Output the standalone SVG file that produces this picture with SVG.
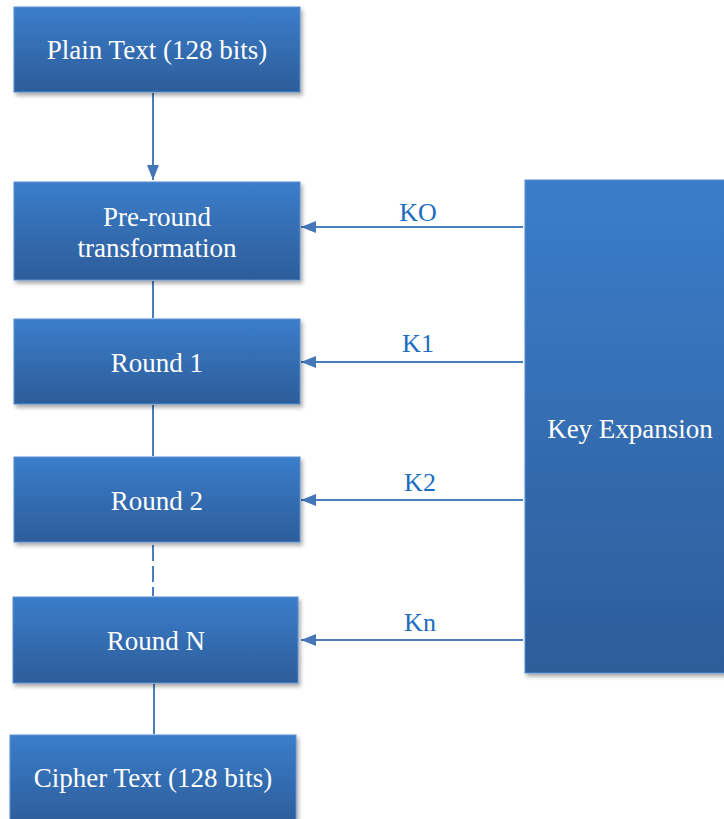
<svg xmlns="http://www.w3.org/2000/svg" width="724" height="819" viewBox="0 0 724 819">
<defs>
<linearGradient id="g" x1="0" y1="0" x2="0" y2="1">
<stop offset="0" stop-color="#3b7dca"/>
<stop offset="1" stop-color="#2d5d9a"/>
</linearGradient>
<filter id="sh" x="-10%" y="-10%" width="125%" height="125%">
<feGaussianBlur in="SourceAlpha" stdDeviation="2"/>
<feOffset dx="2" dy="3"/>
<feComponentTransfer><feFuncA type="linear" slope="0.35"/></feComponentTransfer>
<feMerge><feMergeNode/><feMergeNode in="SourceGraphic"/></feMerge>
</filter>
<marker id="ah" markerWidth="16" markerHeight="12" refX="15" refY="6" orient="auto" markerUnits="userSpaceOnUse">
<path d="M0,0 L15,6 L0,12 Z" fill="#4476b8"/>
</marker>
</defs>
<style>
.box{fill:url(#g);stroke:#5a8fd0;stroke-width:1;filter:url(#sh)}
text{font-family:'Liberation Serif','DejaVu Serif',serif;font-size:27px;text-anchor:middle}
.t{fill:#ffffff}
.lbl{fill:#1c6dc0;font-size:26px}
.c{stroke:#4a7dbf;stroke-width:2;fill:none}
</style>
<g id="connectors">
<line class="c" x1="153" y1="93" x2="153" y2="180" marker-end="url(#ah)"/>
<line class="c" x1="153" y1="281" x2="153" y2="318"/>
<line class="c" x1="153" y1="405" x2="153" y2="456"/>
<line class="c" x1="153" y1="545" x2="153" y2="596" stroke-dasharray="16,5"/>
<line class="c" x1="154" y1="684" x2="154" y2="734"/>
<line class="c" x1="523" y1="227" x2="301" y2="227" marker-end="url(#ah)"/>
<line class="c" x1="523" y1="362" x2="301" y2="362" marker-end="url(#ah)"/>
<line class="c" x1="523" y1="500" x2="301" y2="500" marker-end="url(#ah)"/>
<line class="c" x1="523" y1="640" x2="301" y2="640" marker-end="url(#ah)"/>
<text class="lbl" x="418" y="221">KO</text>
<text class="lbl" x="418" y="352">K1</text>
<text class="lbl" x="420" y="491">K2</text>
<text class="lbl" x="420" y="631">Kn</text>
</g>
<g id="plain">
<rect class="box" x="14" y="7" width="286" height="85"/>
<text class="t" x="157" y="59">Plain Text (128 bits)</text>
</g>
<g id="preround">
<rect class="box" x="14" y="182" width="286" height="98"/>
<text class="t" x="157" y="226">Pre-round</text>
<text class="t" x="157" y="257">transformation</text>
</g>
<g id="round1">
<rect class="box" x="14" y="319" width="286" height="85"/>
<text class="t" x="157" y="372">Round 1</text>
</g>
<g id="round2">
<rect class="box" x="14" y="457" width="286" height="85"/>
<text class="t" x="157" y="510">Round 2</text>
</g>
<g id="roundN">
<rect class="box" x="13" y="597" width="285" height="86"/>
<text class="t" x="156" y="650">Round N</text>
</g>
<g id="cipher">
<rect class="box" x="10" y="735" width="286" height="90"/>
<text class="t" x="153" y="787">Cipher Text (128 bits)</text>
</g>
<g id="keyexp">
<rect class="box" x="525" y="180" width="205" height="493"/>
<text class="t" x="630" y="438">Key Expansion</text>
</g>
</svg>
